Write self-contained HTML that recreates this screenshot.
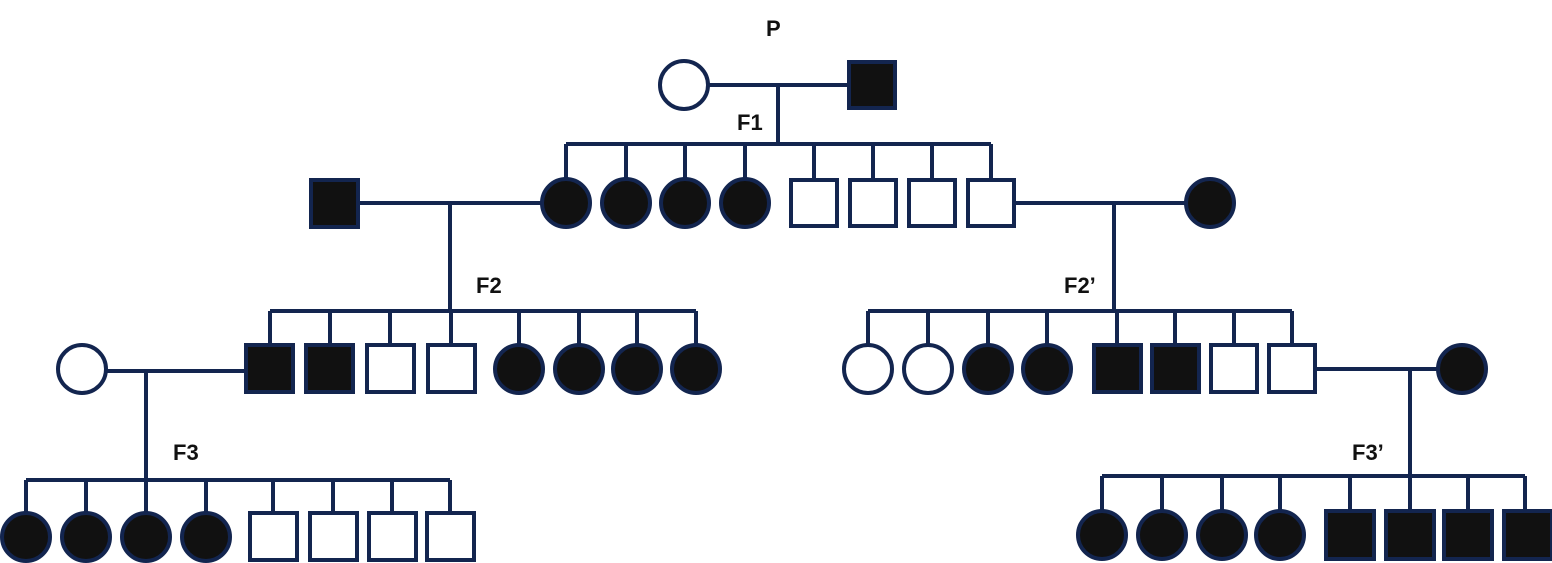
<!DOCTYPE html>
<html><head><meta charset="utf-8"><style>
html,body{margin:0;padding:0;background:#fff;}
svg{display:block;}
text{font-family:"Liberation Sans",sans-serif;font-weight:bold;font-size:22px;fill:#111;}
</style></head><body>
<svg width="1552" height="563" viewBox="0 0 1552 563" xmlns="http://www.w3.org/2000/svg">
<g stroke="#13254f" stroke-width="4" fill="none">
<!-- P -->
<line x1="708" y1="85" x2="848" y2="85"/>
<line x1="778" y1="85" x2="778" y2="144"/>
<line x1="566" y1="144" x2="991" y2="144"/>
<line x1="566" y1="144" x2="566" y2="180"/><line x1="626" y1="144" x2="626" y2="180"/>
<line x1="685" y1="144" x2="685" y2="180"/><line x1="745" y1="144" x2="745" y2="180"/>
<line x1="814" y1="144" x2="814" y2="180"/><line x1="873" y1="144" x2="873" y2="180"/>
<line x1="932" y1="144" x2="932" y2="180"/><line x1="991" y1="144" x2="991" y2="180"/>
<!-- F1 left couple -->
<line x1="359" y1="203" x2="542" y2="203"/>
<line x1="450" y1="203" x2="450" y2="311"/>
<line x1="270" y1="311" x2="696" y2="311"/>
<line x1="270" y1="311" x2="270" y2="345"/><line x1="330" y1="311" x2="330" y2="345"/>
<line x1="390" y1="311" x2="390" y2="345"/><line x1="451" y1="311" x2="451" y2="345"/>
<line x1="519" y1="311" x2="519" y2="345"/><line x1="579" y1="311" x2="579" y2="345"/>
<line x1="637" y1="311" x2="637" y2="345"/><line x1="696" y1="311" x2="696" y2="345"/>
<!-- F1 right couple -->
<line x1="1015" y1="203" x2="1186" y2="203"/>
<line x1="1114" y1="203" x2="1114" y2="311"/>
<line x1="868" y1="311" x2="1292" y2="311"/>
<line x1="868" y1="311" x2="868" y2="345"/><line x1="928" y1="311" x2="928" y2="345"/>
<line x1="988" y1="311" x2="988" y2="345"/><line x1="1047" y1="311" x2="1047" y2="345"/>
<line x1="1117" y1="311" x2="1117" y2="345"/><line x1="1175" y1="311" x2="1175" y2="345"/>
<line x1="1234" y1="311" x2="1234" y2="345"/><line x1="1292" y1="311" x2="1292" y2="345"/>
<!-- F2 left couple -->
<line x1="106" y1="371" x2="245" y2="371"/>
<line x1="146" y1="371" x2="146" y2="480"/>
<line x1="26" y1="480" x2="450" y2="480"/>
<line x1="26" y1="480" x2="26" y2="512"/><line x1="86" y1="480" x2="86" y2="512"/>
<line x1="146" y1="480" x2="146" y2="512"/><line x1="206" y1="480" x2="206" y2="512"/>
<line x1="273" y1="480" x2="273" y2="512"/><line x1="333" y1="480" x2="333" y2="512"/>
<line x1="392" y1="480" x2="392" y2="512"/><line x1="450" y1="480" x2="450" y2="512"/>
<!-- F2 right couple -->
<line x1="1316" y1="369" x2="1438" y2="369"/>
<line x1="1410" y1="369" x2="1410" y2="476"/>
<line x1="1102" y1="476" x2="1525" y2="476"/>
<line x1="1102" y1="476" x2="1102" y2="511"/><line x1="1162" y1="476" x2="1162" y2="511"/>
<line x1="1222" y1="476" x2="1222" y2="511"/><line x1="1280" y1="476" x2="1280" y2="511"/>
<line x1="1350" y1="476" x2="1350" y2="511"/><line x1="1410" y1="476" x2="1410" y2="511"/>
<line x1="1468" y1="476" x2="1468" y2="511"/><line x1="1525" y1="476" x2="1525" y2="511"/>
</g>
<g stroke="#13254f" stroke-width="4">
<!-- P -->
<circle cx="684" cy="85" r="24" fill="#fff"/>
<rect x="849" y="62" width="46" height="46" fill="#111"/>
<!-- F1 -->
<circle cx="566" cy="203" r="24" fill="#111"/><circle cx="626" cy="203" r="24" fill="#111"/>
<circle cx="685" cy="203" r="24" fill="#111"/><circle cx="745" cy="203" r="24" fill="#111"/>
<rect x="791" y="180" width="46" height="46" fill="#fff"/><rect x="850" y="180" width="46" height="46" fill="#fff"/>
<rect x="909" y="180" width="46" height="46" fill="#fff"/><rect x="968" y="180" width="46" height="46" fill="#fff"/>
<rect x="311" y="180" width="47" height="47" fill="#111"/>
<circle cx="1210" cy="203" r="24" fill="#111"/>
<!-- F2 left -->
<rect x="246" y="345" width="47" height="47" fill="#111"/><rect x="306" y="345" width="47" height="47" fill="#111"/>
<rect x="367" y="345" width="47" height="47" fill="#fff"/><rect x="428" y="345" width="47" height="47" fill="#fff"/>
<circle cx="519" cy="369" r="24" fill="#111"/><circle cx="579" cy="369" r="24" fill="#111"/>
<circle cx="637" cy="369" r="24" fill="#111"/><circle cx="696" cy="369" r="24" fill="#111"/>
<circle cx="82" cy="369" r="24" fill="#fff"/>
<!-- F2 right -->
<circle cx="868" cy="369" r="24" fill="#fff"/><circle cx="928" cy="369" r="24" fill="#fff"/>
<circle cx="988" cy="369" r="24" fill="#111"/><circle cx="1047" cy="369" r="24" fill="#111"/>
<rect x="1094" y="345" width="47" height="47" fill="#111"/><rect x="1152" y="345" width="47" height="47" fill="#111"/>
<rect x="1211" y="345" width="46" height="47" fill="#fff"/><rect x="1269" y="345" width="46" height="47" fill="#fff"/>
<circle cx="1462" cy="369" r="24" fill="#111"/>
<!-- F3 -->
<circle cx="26" cy="537" r="24" fill="#111"/><circle cx="86" cy="537" r="24" fill="#111"/>
<circle cx="146" cy="537" r="24" fill="#111"/><circle cx="206" cy="537" r="24" fill="#111"/>
<rect x="250" y="513" width="47" height="47" fill="#fff"/><rect x="310" y="513" width="47" height="47" fill="#fff"/>
<rect x="369" y="513" width="47" height="47" fill="#fff"/><rect x="427" y="513" width="47" height="47" fill="#fff"/>
<!-- F3' -->
<circle cx="1102" cy="535" r="24" fill="#111"/><circle cx="1162" cy="535" r="24" fill="#111"/>
<circle cx="1222" cy="535" r="24" fill="#111"/><circle cx="1280" cy="535" r="24" fill="#111"/>
<rect x="1326" y="511" width="48" height="48" fill="#111"/><rect x="1386" y="511" width="48" height="48" fill="#111"/>
<rect x="1444" y="511" width="48" height="48" fill="#111"/><rect x="1504" y="511" width="48" height="48" fill="#111"/>
</g>
<text x="766" y="36">P</text>
<text x="737" y="130">F1</text>
<text x="476" y="293">F2</text>
<text x="1064" y="293">F2’</text>
<text x="173" y="460">F3</text>
<text x="1352" y="460">F3’</text>
</svg>
</body></html>
